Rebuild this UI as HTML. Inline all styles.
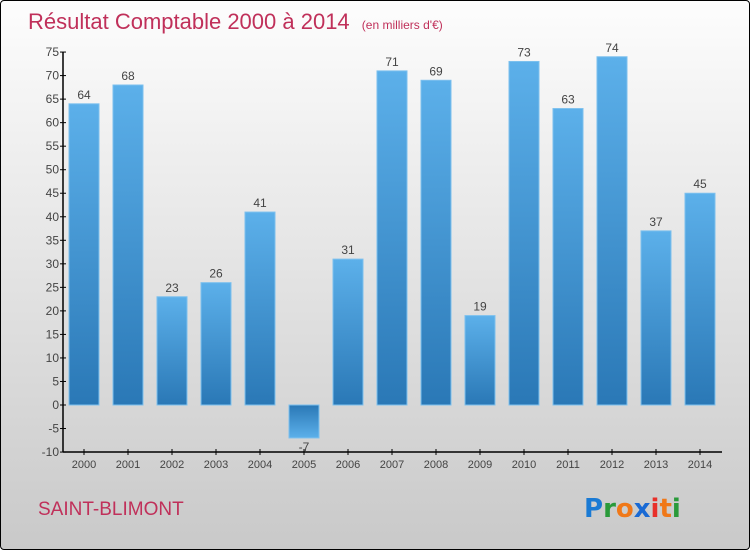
<!DOCTYPE html>
<html><head><meta charset="utf-8"><style>
body{margin:0;width:750px;height:550px;overflow:hidden;font-family:"Liberation Sans",sans-serif}
#wrap{position:absolute;left:0;top:0;width:748px;height:548px;border:1px solid #000;border-radius:4px;background:linear-gradient(#fdfdfd,#c9c9c9)}
</style></head><body>
<div id="wrap">
<svg width="750" height="550" viewBox="-1 -1 750 550">
<defs>
<linearGradient id="gp" x1="0" y1="0" x2="0" y2="1"><stop offset="0" stop-color="#5cb0ea"/><stop offset="1" stop-color="#2a78b6"/></linearGradient>
<linearGradient id="gn" x1="0" y1="0" x2="0" y2="1"><stop offset="0" stop-color="#2a78b6"/><stop offset="1" stop-color="#5cb0ea"/></linearGradient>
</defs>
<text x="26" y="27" font-size="22" fill="#c0305a">Résultat Comptable 2000 à 2014 <tspan font-size="12" dx="6">(en milliers d'€)</tspan></text>
<g id="axes"></g><g id="bars"></g>
<text x="36" y="513" font-size="19" fill="#c0305a">SAINT-BLIMONT</text>
<text x="582" y="515" font-size="26" font-weight="bold" font-family="'DejaVu Sans',sans-serif"><tspan fill="#1a7ad4">P</tspan><tspan fill="#2a9a3a">r</tspan><tspan fill="#f07818">o</tspan><tspan fill="#1a6ad4">x</tspan><tspan fill="#e8302a">i</tspan><tspan fill="#f07818">t</tspan><tspan fill="#2a9a3a">i</tspan></text>
</svg></div>
<script>
const years=["2000","2001","2002","2003","2004","2005","2006","2007","2008","2009","2010","2011","2012","2013","2014"];
const values=[64,68,23,26,41,-7,31,71,69,19,73,63,74,37,45];
const yTicks=[-10,-5,0,5,10,15,20,25,30,35,40,45,50,55,60,65,70,75];
const NS="http://www.w3.org/2000/svg";
function y(v){return 403-(v*(400/85));}
function x(i){return 82+i*44;}
const ax=document.getElementById('axes'),bg=document.getElementById('bars');
function mk(t,a,p){const e=document.createElementNS(NS,t);for(const k in a)e.setAttribute(k,a[k]);p.appendChild(e);return e;}
const yl=mk('line',{x1:61,y1:y(75),x2:61,y2:y(-10),stroke:'#000','stroke-width':1.5},ax);


const xl=mk('line',{x1:61,y1:y(-10),x2:720,y2:y(-10),stroke:'#000','stroke-width':1.5},ax);


yTicks.forEach(v=>{
 mk('line',{x1:58,y1:y(v),x2:64,y2:y(v),stroke:'#000'},ax);
 const t=mk('text',{x:57,y:y(v)+4,'font-size':12,'text-anchor':'end',fill:'#444'},ax);
 t.textContent=v;
 
 
});
years.forEach((yr,i)=>{
 mk('line',{x1:x(i),y1:y(-10)-3,x2:x(i),y2:y(-10)+3,stroke:'#000'},ax);
 const t=mk('text',{x:x(i),y:466,'font-size':11,'text-anchor':'middle',fill:'#444'},ax);
 t.textContent=yr;
 
 
 const v=values[i],top=Math.min(y(v),y(0)),h=Math.abs(y(v)-y(0));
 const r=mk('rect',{x:x(i)-15,y:top,width:30,height:h,fill:v>=0?'url(#gp)':'url(#gn)',stroke:'#7cc0ee','stroke-width':1},bg);
 
 
 const l=mk('text',{x:x(i),y:v>=0?y(v)-5:y(v)+13,'font-size':12,'text-anchor':'middle',fill:'#444'},bg);
 l.textContent=v;
 
 
});
</script>
</body></html>
